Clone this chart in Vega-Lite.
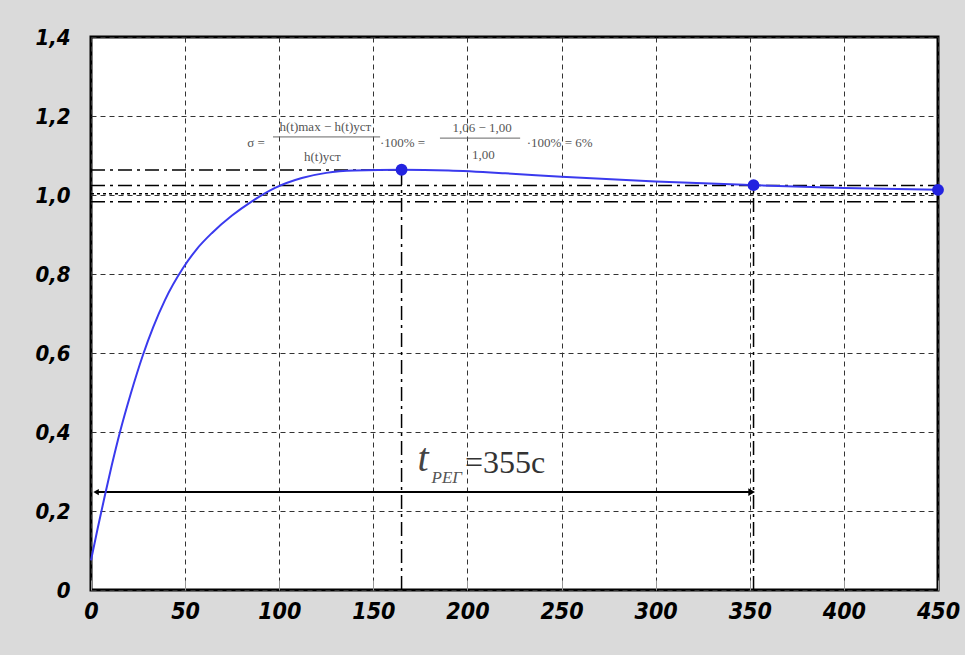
{
  "$schema": "https://vega.github.io/schema/vega-lite/v6.json",
  "width": 847,
  "height": 553,
  "autosize": {"type": "none"},
  "padding": {"left": 91, "top": 37, "right": 27, "bottom": 65},
  "background": "#dadada",
  "config": {"view": {"fill": "white", "stroke": "black", "strokeWidth": 3}},
  "datasets": {
    "curve": [
      {"t": 0, "h": 0.075}, {"t": 3.5, "h": 0.155}, {"t": 7.4, "h": 0.24}, {"t": 11, "h": 0.315},
      {"t": 15.4, "h": 0.4}, {"t": 21, "h": 0.495}, {"t": 27.6, "h": 0.595}, {"t": 33, "h": 0.665},
      {"t": 39.3, "h": 0.734}, {"t": 48.9, "h": 0.815}, {"t": 56, "h": 0.862}, {"t": 64.3, "h": 0.904},
      {"t": 74.9, "h": 0.948}, {"t": 85.5, "h": 0.984}, {"t": 97.8, "h": 1.018}, {"t": 112, "h": 1.043},
      {"t": 125, "h": 1.056}, {"t": 140, "h": 1.062}, {"t": 165, "h": 1.064}, {"t": 190, "h": 1.062},
      {"t": 220, "h": 1.055}, {"t": 250, "h": 1.046}, {"t": 300, "h": 1.034}, {"t": 352, "h": 1.025},
      {"t": 400, "h": 1.018}, {"t": 450, "h": 1.013}
    ],
    "dots": [{"t": 165, "h": 1.064}, {"t": 352, "h": 1.025}, {"t": 450, "h": 1.013}],
    "refs": [
      {"x0": 0, "x1": 165, "y0": 1.063, "y1": 1.063, "style": "dashdot"},
      {"x0": 0, "x1": 450, "y0": 1.024, "y1": 1.024, "style": "dashdot"},
      {"x0": 0, "x1": 450, "y0": 1.003, "y1": 1.003, "style": "dots"},
      {"x0": 0, "x1": 450, "y0": 0.983, "y1": 0.983, "style": "dashdot"},
      {"x0": 165, "x1": 165, "y0": 0, "y1": 1.063, "style": "dashdot"},
      {"x0": 352, "x1": 352, "y0": 0, "y1": 1.024, "style": "dashdot"}
    ],
    "arrow": [{"x0": 2.7, "x1": 351, "y0": 0.248}],
    "bars": [
      {"x0": 96.7, "x1": 153.6, "y0": 1.147},
      {"x0": 185.4, "x1": 228, "y0": 1.144}
    ],
    "formula": [
      {"x": 87.7, "y": 1.132, "label": "σ ="},
      {"x": 124.5, "y": 1.172, "label": "h(t)max − h(t)уст"},
      {"x": 122.9, "y": 1.095, "label": "h(t)уст"},
      {"x": 165.5, "y": 1.132, "label": "·100% ="},
      {"x": 207.8, "y": 1.17, "label": "1,06 − 1,00"},
      {"x": 208.5, "y": 1.101, "label": "1,00"},
      {"x": 249, "y": 1.132, "label": "·100% = 6%"}
    ]
  },
  "layer": [
    {
      "data": {"name": "refs"},
      "mark": {"type": "rule", "color": "black", "strokeWidth": 1.5},
      "encoding": {
        "x": {
          "field": "x0", "type": "quantitative",
          "scale": {"domain": [0, 450], "nice": false, "zero": false},
          "axis": {
            "title": null, "values": [0, 50, 100, 150, 200, 250, 300, 350, 400, 450],
            "grid": true, "gridDash": [5, 4], "gridColor": "#333", "gridWidth": 1, "gridOpacity": 1,
            "domain": false, "tickSize": -10, "tickColor": "#999", "labelPadding": 20,
            "labelFlush": false, "labelOverlap": false,
            "labelFont": "Liberation Sans Narrow, DejaVu Sans Condensed, Liberation Sans",
            "labelFontSize": 23, "labelFontWeight": "bold", "labelFontStyle": "italic", "labelColor": "#000"
          }
        },
        "x2": {"field": "x1"},
        "y": {
          "field": "y0", "type": "quantitative",
          "scale": {"domain": [0, 1.4], "nice": false, "zero": false},
          "axis": {
            "title": null, "values": [0, 0.2, 0.4, 0.6, 0.8, 1.0, 1.2, 1.4],
            "labelExpr": "datum.value == 0 ? '0' : replace(format(datum.value, '.1f'), '.', ',')",
            "grid": true, "gridDash": [5, 4], "gridColor": "#333", "gridWidth": 1, "gridOpacity": 1,
            "domain": false, "ticks": false, "labelPadding": 21,
            "labelFlush": false, "labelOverlap": false,
            "labelFont": "Liberation Sans Narrow, DejaVu Sans Condensed, Liberation Sans",
            "labelFontSize": 22, "labelFontWeight": "bold", "labelFontStyle": "italic", "labelColor": "#000"
          }
        },
        "y2": {"field": "y1"},
        "strokeDash": {
          "field": "style", "type": "nominal",
          "scale": {"domain": ["dashdot", "dots"], "range": [[14, 5, 3, 5], [3, 3]]},
          "legend": null
        }
      }
    },
    {
      "data": {"name": "arrow"},
      "mark": {"type": "rule", "color": "black", "strokeWidth": 2},
      "encoding": {
        "x": {"field": "x0", "type": "quantitative"},
        "x2": {"field": "x1"},
        "y": {"field": "y0", "type": "quantitative"}
      }
    },
    {
      "data": {"name": "arrow"},
      "mark": {"type": "point", "shape": "triangle-right", "filled": true, "color": "black", "size": 60, "opacity": 1},
      "encoding": {
        "x": {"field": "x1", "type": "quantitative"},
        "y": {"field": "y0", "type": "quantitative"}
      }
    },
    {
      "data": {"name": "arrow"},
      "mark": {"type": "point", "shape": "triangle-left", "filled": true, "color": "black", "size": 40, "opacity": 1},
      "encoding": {
        "x": {"field": "x0", "type": "quantitative"},
        "y": {"field": "y0", "type": "quantitative"}
      }
    },
    {
      "data": {"name": "curve"},
      "mark": {"type": "line", "color": "#3a3aee", "strokeWidth": 2, "interpolate": "monotone"},
      "encoding": {
        "x": {"field": "t", "type": "quantitative"},
        "y": {"field": "h", "type": "quantitative"}
      }
    },
    {
      "data": {"name": "dots"},
      "mark": {"type": "point", "filled": true, "color": "#2323e0", "size": 140, "opacity": 1},
      "encoding": {
        "x": {"field": "t", "type": "quantitative"},
        "y": {"field": "h", "type": "quantitative"}
      }
    },
    {
      "data": {"name": "bars"},
      "mark": {"type": "rule", "color": "#666", "strokeWidth": 1},
      "encoding": {
        "x": {"field": "x0", "type": "quantitative"},
        "x2": {"field": "x1"},
        "y": {"field": "y0", "type": "quantitative"}
      }
    },
    {
      "data": {"name": "formula"},
      "mark": {"type": "text", "font": "Liberation Serif", "fontSize": 13, "color": "#555", "align": "center", "baseline": "middle"},
      "encoding": {
        "x": {"field": "x", "type": "quantitative"},
        "y": {"field": "y", "type": "quantitative"},
        "text": {"field": "label"}
      }
    },
    {
      "data": {"values": [{"x": 176.4, "y": 0.302, "label": "t"}]},
      "mark": {"type": "text", "font": "Liberation Serif", "fontStyle": "italic", "fontSize": 40, "color": "#444", "align": "center", "baseline": "alphabetic"},
      "encoding": {
        "x": {"field": "x", "type": "quantitative"},
        "y": {"field": "y", "type": "quantitative"},
        "text": {"field": "label"}
      }
    },
    {
      "data": {"values": [{"x": 189, "y": 0.272, "label": "РЕГ"}]},
      "mark": {"type": "text", "font": "Liberation Serif", "fontStyle": "italic", "fontSize": 17, "color": "#555", "align": "center", "baseline": "alphabetic"},
      "encoding": {
        "x": {"field": "x", "type": "quantitative"},
        "y": {"field": "y", "type": "quantitative"},
        "text": {"field": "label"}
      }
    },
    {
      "data": {"values": [{"x": 198.7, "y": 0.296, "label": "=355c"}]},
      "mark": {"type": "text", "font": "Liberation Serif", "fontSize": 32, "color": "#333", "align": "left", "baseline": "alphabetic"},
      "encoding": {
        "x": {"field": "x", "type": "quantitative"},
        "y": {"field": "y", "type": "quantitative"},
        "text": {"field": "label"}
      }
    }
  ]
}
